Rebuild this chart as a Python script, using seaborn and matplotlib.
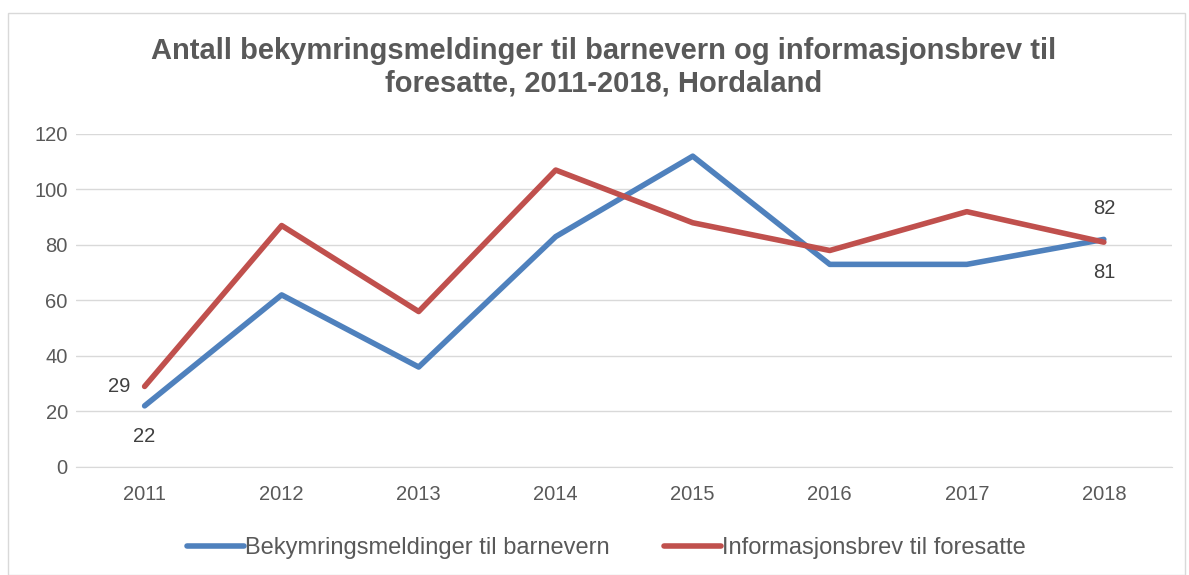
import pandas as pd
import seaborn as sns
import matplotlib.pyplot as plt
from matplotlib.patches import Rectangle

years = ['2011', '2012', '2013', '2014', '2015', '2016', '2017', '2018']
bekymring = [22, 62, 36, 83, 112, 73, 73, 82]
infobrev = [29, 87, 56, 107, 88, 78, 92, 81]
series_names = ['Bekymringsmeldinger til barnevern', 'Informasjonsbrev til foresatte']

df = pd.DataFrame({
    'year': years * 2,
    'value': bekymring + infobrev,
    'series': [series_names[0]] * len(years) + [series_names[1]] * len(years),
})

sns.set_style('white')
plt.rcParams['font.family'] = ['Liberation Sans', 'DejaVu Sans']
grey = '#595959'

fig = plt.figure(figsize=(11.89, 5.75), dpi=100)
ax = fig.add_axes([0.064, 0.188, 0.922, 0.579])

sns.lineplot(data=df, x='year', y='value', hue='series', sort=False,
             palette=['#4F81BD', '#C0504D'], linewidth=4, ax=ax,
             legend=True)

ax.set_ylim(0, 120)
ax.set_xlim(-0.5, 7.5)
ax.set_yticks(range(0, 121, 20))
ax.yaxis.grid(True, color='#D9D9D9', linewidth=1)
ax.set_axisbelow(True)
for s in ['top', 'right', 'left']:
    ax.spines[s].set_visible(False)
ax.spines['bottom'].set_color('#D9D9D9')
ax.tick_params(axis='both', colors=grey, labelsize=14.5, length=0)
ax.tick_params(axis='x', pad=13)
ax.tick_params(axis='y', pad=6)
ax.set_xlabel('')
ax.set_ylabel('')

# data labels
lab = dict(fontsize=14.5, color='#404040', textcoords='offset points', va='center')
ax.annotate('29', (0, infobrev[0]), xytext=(-10, 0), ha='right', **lab)
ax.annotate('22', (0, bekymring[0]), xytext=(0, -22), ha='center', **lab)
ax.annotate('82', (7, bekymring[7]), xytext=(0, 22), ha='center', **lab)
ax.annotate('81', (7, infobrev[7]), xytext=(0, -22), ha='center', **lab)

fig.suptitle('Antall bekymringsmeldinger til barnevern og informasjonsbrev til\nforesatte, 2011-2018, Hordaland',
             x=0.508, y=0.883, va='center', fontsize=21, fontweight='bold', color=grey,
             linespacing=1.2)

leg = ax.legend(loc='center', bbox_to_anchor=(0.51, 0.047), bbox_transform=fig.transFigure,
                ncol=2, frameon=False, fontsize=17, handlelength=2.4, handletextpad=0.05,
                columnspacing=2.3)
for t in leg.get_texts():
    t.set_color(grey)

fig.patches.append(Rectangle((0.007, 0.0), 0.99, 0.977, transform=fig.transFigure,
                             fill=False, edgecolor='#D9D9D9', linewidth=1))

fig.savefig('out.png', dpi=100)
